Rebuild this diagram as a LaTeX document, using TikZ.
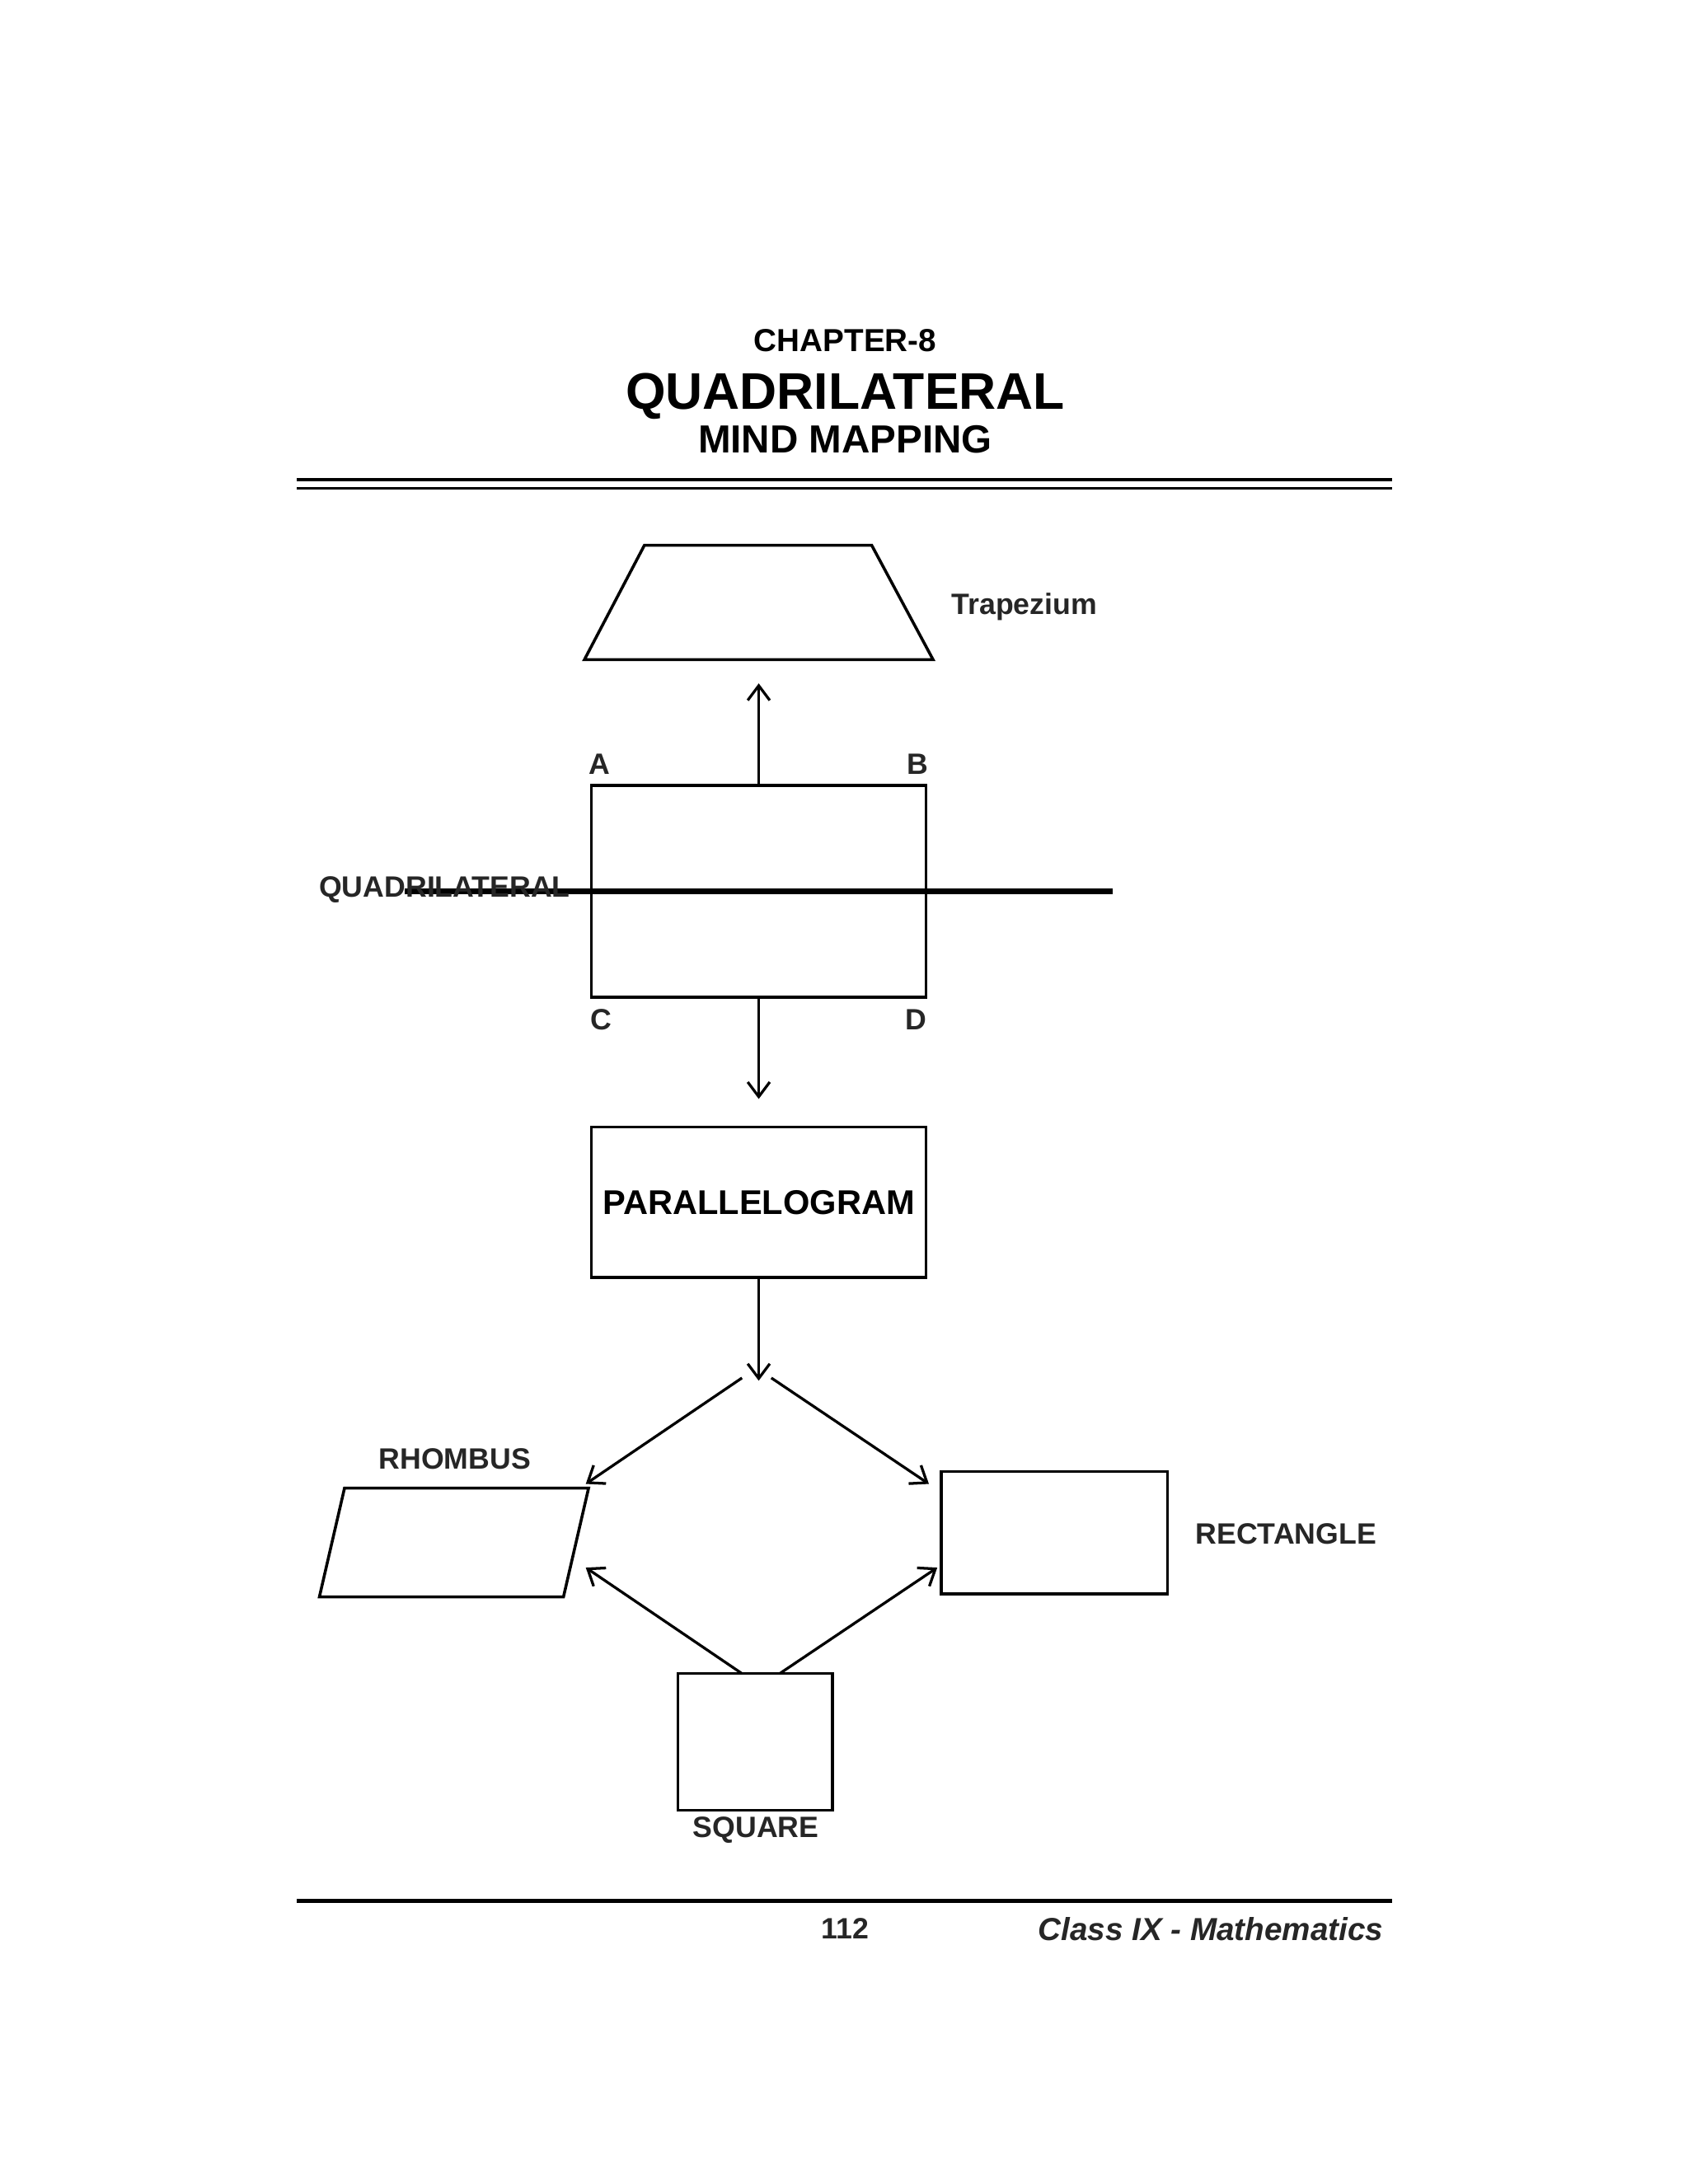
\documentclass[tikz,border=0pt]{standalone}
\usepackage{fontspec}
\setmainfont{Liberation Sans}
\usetikzlibrary{arrows.meta}
\begin{document}
\begin{tikzpicture}[x=0.02cm,y=-0.02cm,
  shp/.style={draw,line width=1.2pt},
  arr/.style={line width=1.1pt,-{Straight Barb[length=6pt,width=9pt]}},
  lbl/.style={font=\bfseries\fontsize{12}{14}\selectfont,text=black!85}]
\useasboundingbox (0,0) rectangle (1210,1566);
\node[font=\bfseries\fontsize{13}{15}\selectfont] (ch) at (606,244) {CHAPTER-8};
\node[font=\bfseries\fontsize{21}{24}\selectfont] (t1) at (606,284) {QUADRILATERAL};
\node[font=\bfseries\fontsize{16}{18}\selectfont] (t2) at (606,315) {MIND MAPPING};
\draw[line width=1.2pt] (213,344) -- (998,344) (213,350) -- (998,350);
% trapezium
\draw[shp] (419,473) -- (669,473) -- (625,391) -- (462,391) -- cycle;
\coordinate (trb) at (544,490);
\node[lbl,anchor=west] (trl) at (676,435) {Trapezium};
% quadrilateral
\node[shp,minimum width=240\pgflinewidth,inner sep=0] (q) at (544,639) {};
\draw[shp] (424,563) rectangle (664,715);
\coordinate (qt) at (544,563); \coordinate (qb) at (544,715);
\node[lbl] (A) at (430,548) {A};
\node[lbl] (B) at (658,548) {B};
\node[lbl] (C) at (431,731) {C};
\node[lbl] (D) at (657,731) {D};
\node[lbl,anchor=east] (ql) at (415,638) {QUADRILATERAL};
\draw[arr] (qt) -- (trb);
% parallelogram
\node[shp,minimum width=4.8cm,minimum height=2.16cm,font=\bfseries\fontsize{14}{16}\selectfont] (p) at (544,862) {PARALLELOGRAM};
\coordinate (pt) at (544,788);
\draw[arr] (qb) -- (pt);
\coordinate (pe) at (544,990);
\draw[arr] (p.south) -- (pe);
% rhombus
\draw[shp] (229,1145) -- (404,1145) -- (422,1067) -- (247,1067) -- cycle;
\node[lbl] (rl) at (326,1046) {RHOMBUS};
% rectangle
\node[shp,minimum width=3.24cm,minimum height=1.76cm] (r) at (756,1099) {};
\node[lbl] (rrl) at (922,1100) {RECTANGLE};
% square
\node[shp,minimum width=2.22cm,minimum height=1.96cm] (s) at (541.5,1249) {};
\node[lbl] (sl) at (542,1312) {SQUARE};
% arrows
\coordinate (a1) at (532,988); \coordinate (a2) at (420,1064);
\coordinate (b1) at (553,988); \coordinate (b2) at (666,1064);
\coordinate (c1) at (532,1200); \coordinate (c2) at (420,1124);
\coordinate (d1) at (559,1200); \coordinate (d2) at (672,1124);
\draw[arr] (a1) -- (a2);
\draw[arr] (b1) -- (b2);
\draw[arr] (c1) -- (c2);
\draw[arr] (d1) -- (d2);
% footer
\draw[line width=2pt] (213,1363) -- (998,1363);
\node[lbl] (pg) at (606,1383) {112};
\node[lbl,anchor=east,font=\bfseries\itshape\fontsize{13}{15}\selectfont] (cl) at (998,1383) {Class IX - Mathematics};
\end{tikzpicture}
\end{document}
